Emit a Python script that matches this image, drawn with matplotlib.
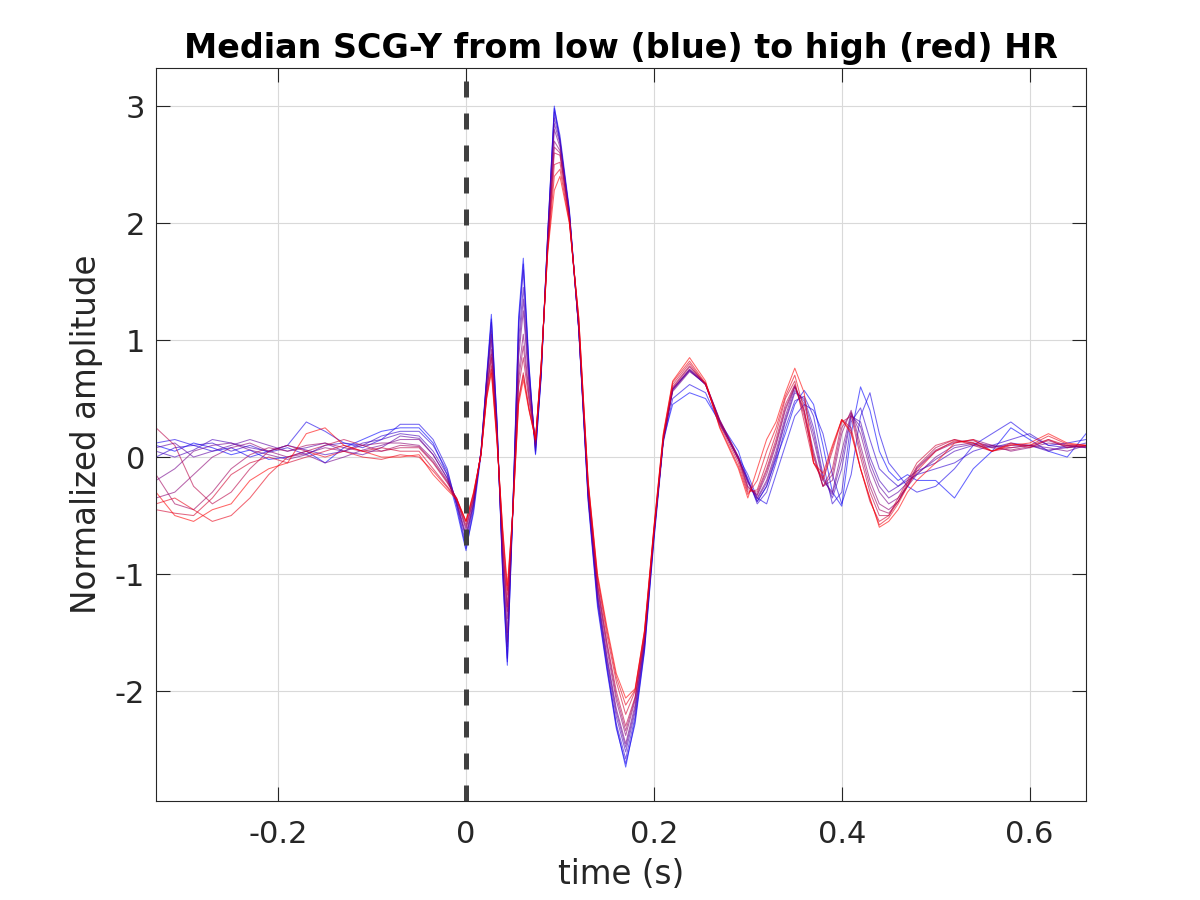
import numpy as np
import matplotlib
matplotlib.use('Agg')
import matplotlib.pyplot as plt

# temps (s) : trois morceaux, avant le complexe, le complexe, la fin
t_pre = [-0.33, -0.31, -0.29, -0.27, -0.25, -0.23, -0.21, -0.19, -0.17, -0.15,
         -0.13, -0.11, -0.09, -0.07]
t_mid = [-0.05, -0.035, -0.02, -0.01, 0.0, 0.008, 0.016, 0.022, 0.027, 0.033,
         0.039, 0.044, 0.05, 0.056, 0.061, 0.067, 0.074, 0.08, 0.087, 0.094,
         0.1, 0.11, 0.12, 0.13, 0.14, 0.15, 0.16, 0.17, 0.18, 0.19,
         0.2, 0.21, 0.22, 0.238, 0.255, 0.27, 0.29]
t_end = [0.30, 0.31, 0.32, 0.33, 0.34, 0.35, 0.36, 0.37, 0.38, 0.39,
         0.40, 0.41, 0.42, 0.43, 0.44, 0.45, 0.46, 0.47, 0.48, 0.50,
         0.52, 0.54, 0.56, 0.58, 0.60, 0.62, 0.64, 0.66]

# amplitudes normalisees, du HR bas (bleu) au HR haut (rouge)
pre_vals = [
    [0.10, 0.05, 0.12, 0.08, 0.02, 0.06, -0.02, 0.00, 0.05, -0.05, 0.08, 0.15, 0.22, 0.25],
    [0.12, 0.15, 0.10, 0.05, 0.08, 0.00, 0.05, 0.10, 0.30, 0.22, 0.12, 0.08, 0.15, 0.28],
    [0.00, 0.08, 0.10, 0.12, 0.05, 0.10, 0.04, 0.08, 0.02, 0.10, 0.12, 0.10, 0.18, 0.22],
    [0.05, 0.00, 0.06, 0.15, 0.12, 0.08, 0.05, 0.10, 0.06, 0.02, 0.05, 0.12, 0.15, 0.20],
    [0.08, 0.12, 0.00, 0.05, 0.10, 0.15, 0.10, 0.05, 0.08, 0.12, 0.05, 0.02, 0.08, 0.18],
    [-0.20, -0.10, 0.05, 0.10, 0.12, 0.06, 0.02, -0.02, 0.02, -0.05, 0.00, 0.06, 0.10, 0.15],
    [-0.35, -0.30, -0.15, 0.00, 0.08, 0.12, 0.05, 0.00, 0.03, 0.08, 0.05, 0.10, 0.12, 0.12],
    [-0.15, -0.40, -0.45, -0.30, -0.10, 0.02, 0.08, 0.05, 0.10, 0.12, 0.08, 0.05, 0.05, 0.10],
    [0.25, 0.10, -0.25, -0.40, -0.30, -0.10, 0.05, 0.10, 0.05, 0.10, 0.15, 0.10, 0.05, 0.08],
    [-0.45, -0.48, -0.50, -0.35, -0.15, -0.05, 0.00, -0.05, 0.00, 0.05, 0.10, 0.05, 0.08, 0.05],
    [-0.40, -0.35, -0.45, -0.55, -0.50, -0.35, -0.15, 0.00, 0.05, 0.00, 0.05, 0.00, -0.02, 0.02],
    [-0.30, -0.50, -0.55, -0.45, -0.40, -0.20, -0.10, -0.05, 0.20, 0.25, 0.10, 0.05, 0.00, 0.00],
]
mid_vals = [
    [0.25, 0.12, -0.15, -0.45, -0.80, -0.45, 0.05, 0.70, 1.22, 0.30, -1.00, -1.78, -0.40, 1.20, 1.70, 0.80, 0.02, 0.70, 1.90, 3.00, 2.70, 2.10, 1.10, -0.35, -1.25, -1.80, -2.30, -2.65, -2.25, -1.65, -0.70, 0.15, 0.45, 0.55, 0.50, 0.30, 0.05],
    [0.28, 0.15, -0.10, -0.42, -0.78, -0.48, 0.02, 0.66, 1.18, 0.32, -0.98, -1.75, -0.45, 1.15, 1.65, 0.78, 0.03, 0.68, 1.92, 2.98, 2.75, 2.12, 1.08, -0.38, -1.28, -1.82, -2.32, -2.62, -2.28, -1.66, -0.72, 0.12, 0.50, 0.62, 0.55, 0.28, 0.00],
    [0.22, 0.10, -0.12, -0.40, -0.75, -0.42, 0.05, 0.68, 1.15, 0.28, -0.95, -1.72, -0.40, 1.10, 1.60, 0.75, 0.05, 0.72, 1.90, 2.95, 2.72, 2.10, 1.10, -0.35, -1.22, -1.78, -2.28, -2.58, -2.22, -1.62, -0.68, 0.15, 0.58, 0.74, 0.62, 0.30, -0.02],
    [0.18, 0.05, -0.15, -0.38, -0.70, -0.40, 0.05, 0.66, 1.08, 0.25, -0.90, -1.62, -0.40, 1.00, 1.45, 0.70, 0.08, 0.72, 1.88, 2.90, 2.70, 2.08, 1.10, -0.32, -1.20, -1.75, -2.22, -2.52, -2.18, -1.60, -0.66, 0.15, 0.58, 0.75, 0.62, 0.30, -0.02],
    [0.16, 0.02, -0.18, -0.40, -0.68, -0.40, 0.04, 0.64, 1.05, 0.24, -0.88, -1.58, -0.42, 0.92, 1.35, 0.66, 0.09, 0.72, 1.86, 2.85, 2.68, 2.07, 1.10, -0.31, -1.18, -1.72, -2.18, -2.48, -2.15, -1.59, -0.66, 0.15, 0.57, 0.74, 0.62, 0.31, -0.01],
    [0.15, 0.02, -0.18, -0.38, -0.66, -0.38, 0.04, 0.62, 1.00, 0.22, -0.85, -1.50, -0.42, 0.85, 1.25, 0.62, 0.10, 0.74, 1.85, 2.80, 2.65, 2.06, 1.10, -0.30, -1.16, -1.70, -2.15, -2.45, -2.12, -1.58, -0.66, 0.14, 0.56, 0.73, 0.63, 0.32, 0.00],
    [0.10, -0.02, -0.20, -0.36, -0.62, -0.36, 0.04, 0.58, 0.92, 0.20, -0.78, -1.38, -0.42, 0.72, 1.05, 0.55, 0.12, 0.76, 1.82, 2.70, 2.62, 2.05, 1.12, -0.28, -1.12, -1.64, -2.08, -2.38, -2.08, -1.55, -0.65, 0.14, 0.58, 0.75, 0.63, 0.32, 0.00],
    [0.09, -0.04, -0.21, -0.36, -0.60, -0.35, 0.03, 0.56, 0.88, 0.19, -0.75, -1.32, -0.44, 0.66, 0.95, 0.52, 0.13, 0.77, 1.81, 2.65, 2.60, 2.05, 1.14, -0.26, -1.10, -1.60, -2.04, -2.34, -2.06, -1.54, -0.64, 0.15, 0.59, 0.77, 0.63, 0.31, -0.01],
    [0.08, -0.05, -0.22, -0.35, -0.58, -0.34, 0.03, 0.55, 0.85, 0.18, -0.72, -1.28, -0.45, 0.60, 0.85, 0.48, 0.14, 0.78, 1.80, 2.60, 2.58, 2.05, 1.15, -0.25, -1.08, -1.58, -2.00, -2.30, -2.05, -1.52, -0.64, 0.16, 0.60, 0.78, 0.62, 0.30, -0.02],
    [0.05, -0.10, -0.25, -0.35, -0.55, -0.32, 0.03, 0.52, 0.78, 0.15, -0.65, -1.18, -0.45, 0.50, 0.72, 0.42, 0.15, 0.78, 1.78, 2.50, 2.52, 2.02, 1.18, -0.22, -1.04, -1.52, -1.92, -2.20, -2.00, -1.50, -0.62, 0.18, 0.62, 0.80, 0.62, 0.28, -0.05],
    [0.00, -0.12, -0.26, -0.36, -0.55, -0.31, 0.02, 0.51, 0.75, 0.14, -0.62, -1.14, -0.45, 0.48, 0.70, 0.41, 0.15, 0.79, 1.76, 2.40, 2.46, 2.01, 1.19, -0.21, -1.02, -1.48, -1.88, -2.12, -1.99, -1.49, -0.61, 0.19, 0.64, 0.82, 0.63, 0.26, -0.08],
    [0.02, -0.15, -0.28, -0.36, -0.55, -0.30, 0.02, 0.50, 0.72, 0.12, -0.60, -1.10, -0.45, 0.45, 0.66, 0.40, 0.15, 0.80, 1.75, 2.28, 2.40, 2.00, 1.20, -0.20, -1.00, -1.45, -1.85, -2.06, -1.98, -1.48, -0.60, 0.20, 0.65, 0.85, 0.65, 0.25, -0.10],
]
end_vals = [
    [-0.20, -0.38, -0.25, -0.02, 0.20, 0.45, 0.57, 0.45, 0.10, -0.30, -0.42, 0.20, 0.60, 0.40, 0.05, -0.12, -0.20, -0.15, -0.20, -0.20, -0.35, -0.10, 0.05, 0.25, 0.15, 0.05, 0.00, 0.20],
    [-0.15, -0.35, -0.40, -0.15, 0.10, 0.35, 0.45, 0.40, 0.20, -0.15, -0.40, -0.15, 0.35, 0.55, 0.20, -0.05, -0.15, -0.25, -0.30, -0.25, -0.10, 0.10, 0.20, 0.30, 0.18, 0.10, 0.12, 0.15],
    [-0.18, -0.40, -0.30, -0.05, 0.25, 0.48, 0.52, 0.35, -0.05, -0.40, -0.30, 0.30, 0.42, 0.15, -0.10, -0.18, -0.25, -0.20, -0.15, -0.10, -0.05, 0.05, 0.10, 0.15, 0.20, 0.10, 0.08, 0.12],
    [-0.20, -0.38, -0.25, 0.00, 0.30, 0.55, 0.50, 0.25, -0.15, -0.35, -0.10, 0.35, 0.30, 0.00, -0.20, -0.30, -0.25, -0.18, -0.12, -0.05, 0.05, 0.10, 0.08, 0.12, 0.10, 0.05, 0.10, 0.08],
    [-0.21, -0.36, -0.22, 0.02, 0.32, 0.57, 0.48, 0.20, -0.18, -0.32, -0.02, 0.36, 0.26, -0.05, -0.25, -0.35, -0.30, -0.22, -0.14, -0.02, 0.08, 0.11, 0.09, 0.10, 0.10, 0.06, 0.08, 0.09],
    [-0.22, -0.35, -0.20, 0.05, 0.35, 0.60, 0.45, 0.15, -0.20, -0.30, 0.05, 0.38, 0.20, -0.10, -0.30, -0.40, -0.35, -0.25, -0.15, 0.00, 0.10, 0.12, 0.10, 0.08, 0.10, 0.08, 0.05, 0.10],
    [-0.25, -0.33, -0.15, 0.10, 0.40, 0.60, 0.40, 0.05, -0.25, -0.20, 0.20, 0.40, 0.10, -0.20, -0.40, -0.45, -0.38, -0.25, -0.10, 0.05, 0.12, 0.15, 0.10, 0.05, 0.08, 0.12, 0.10, 0.08],
    [-0.26, -0.32, -0.12, 0.12, 0.42, 0.61, 0.38, 0.02, -0.25, -0.15, 0.25, 0.38, 0.05, -0.25, -0.45, -0.48, -0.38, -0.24, -0.09, 0.06, 0.13, 0.14, 0.08, 0.06, 0.09, 0.14, 0.09, 0.09],
    [-0.28, -0.30, -0.10, 0.15, 0.45, 0.62, 0.35, 0.00, -0.25, -0.10, 0.30, 0.35, 0.00, -0.30, -0.50, -0.50, -0.38, -0.22, -0.08, 0.08, 0.15, 0.12, 0.05, 0.08, 0.10, 0.15, 0.08, 0.10],
    [-0.30, -0.28, -0.05, 0.20, 0.50, 0.65, 0.30, -0.05, -0.20, 0.05, 0.32, 0.25, -0.10, -0.38, -0.55, -0.50, -0.35, -0.20, -0.05, 0.10, 0.15, 0.10, 0.05, 0.12, 0.08, 0.15, 0.10, 0.10],
    [-0.32, -0.20, 0.05, 0.25, 0.52, 0.70, 0.40, -0.05, -0.18, 0.08, 0.32, 0.22, -0.10, -0.36, -0.58, -0.52, -0.40, -0.25, -0.12, 0.05, 0.14, 0.12, 0.05, 0.11, 0.10, 0.18, 0.11, 0.10],
    [-0.35, -0.10, 0.15, 0.30, 0.55, 0.76, 0.55, -0.05, -0.14, 0.10, 0.32, 0.20, -0.10, -0.35, -0.60, -0.55, -0.45, -0.30, -0.20, -0.05, 0.12, 0.15, 0.05, 0.10, 0.12, 0.20, 0.12, 0.10],
]

plt.rcParams['font.family'] = 'DejaVu Sans'
plt.rcParams['axes.unicode_minus'] = False
gris = (0.15, 0.15, 0.15)

fig = plt.figure(figsize=(12, 9), dpi=100)
ax = fig.add_axes([0.13, 0.11, 0.775, 0.815])

t = np.array(t_pre + t_mid + t_end)
n = len(pre_vals)
for k in range(n):
    y = np.array(pre_vals[k] + mid_vals[k] + end_vals[k])
    f = k / (n - 1)
    ax.plot(t, y, color=(f, 0.0, 1.0 - f), alpha=0.6, lw=0.75)

# ligne pointillee a t = 0
ax.axvline(0, color=(0.25, 0.25, 0.25), lw=3.6, dashes=(3.2, 3.2))

ax.set_xlim(-0.33, 0.66)
ax.set_ylim(-2.94, 3.33)
ax.set_xticks([-0.2, 0, 0.2, 0.4, 0.6])
ax.set_xticklabels(['-0.2', '0', '0.2', '0.4', '0.6'])
ax.set_yticks([-2, -1, 0, 1, 2, 3])
ax.grid(True, color=(0.85, 0.85, 0.85), lw=0.8)
ax.set_axisbelow(True)
ax.tick_params(direction='in', top=True, right=True, length=10, width=0.8,
               labelsize=22, colors=gris)
ax.tick_params(axis='x', pad=14)
ax.tick_params(axis='y', pad=8)
for s in ax.spines.values():
    s.set_color(gris)
    s.set_linewidth(0.8)

ax.set_xlabel('time (s)', fontsize=23.5, color=gris, labelpad=6)
ax.set_ylabel('Normalized amplitude', fontsize=23.5, color=gris, labelpad=8)
ax.set_title('Median SCG-Y from low (blue) to high (red) HR', fontsize=24,
             fontweight='bold', pad=7)

plt.savefig('out.png', dpi=100)
